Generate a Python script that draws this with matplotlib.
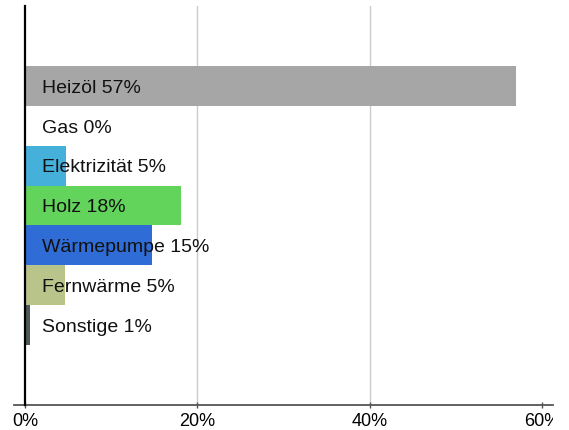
import matplotlib
matplotlib.use('Agg')
import matplotlib.pyplot as plt
from matplotlib.transforms import Bbox, TransformedBbox

# data
categories = ['Heizöl', 'Gas', 'Elektrizität', 'Holz', 'Wärmepumpe', 'Fernwärme', 'Sonstige']
shares = [57.0, 0.0, 4.8, 18.1, 14.7, 4.6, 0.6]
labels = ['57%', '0%', '5%', '18%', '15%', '5%', '1%']
colors = ['#a6a6a6', '#a6a6a6', '#45b0da', '#62d35b', '#2f6cd6', '#b9c48a', '#4c5954']
xticks = [0, 20, 40, 60]
xticklabels = ['0%', '20%', '40%', '60%']

plt.rcParams['font.family'] = ['Liberation Sans', 'DejaVu Sans']

fig = plt.figure(figsize=(5.69, 4.30), dpi=100)
ax = fig.add_axes([25 / 569, 25 / 430, 517 / 569, 399 / 430])

pos = list(range(len(categories)))
ax.barh(pos, shares, height=1.0, color=colors, zorder=2)

for i, (cat, lab) in enumerate(zip(categories, labels)):
    ax.annotate(f'{cat} {lab}', xy=(0, i), xytext=(12.3, -4.9), textcoords='offset points',
                va='baseline', ha='left', fontsize=14, color='#111111', zorder=3)

ax.set_xlim(0, 60)
ax.set_ylim(8, -2)
ax.set_yticks([])
ax.set_xticks(xticks)
ax.set_xticklabels(xticklabels, fontsize=13)
ax.tick_params(axis='x', direction='inout', length=5, width=1, color='#555555', pad=3)

# the original chart is cut off at the right edge
clip = TransformedBbox(Bbox([[0, 0], [553 / 569, 1]]), fig.transFigure)
for t in ax.get_xticklabels():
    t.set_clip_box(clip)
    t.set_clip_on(True)

# light vertical grid
for g in xticks[1:-1]:
    ax.axvline(g, color='#cccccc', lw=1, zorder=1)

for s in ['top', 'right']:
    ax.spines[s].set_visible(False)
ax.spines['left'].set_color('#000000')
ax.spines['left'].set_linewidth(1.6)
ax.spines['left'].set_zorder(4)
ax.spines['bottom'].set_color('#555555')
ax.spines['bottom'].set_linewidth(1.3)
ax.spines['bottom'].set_bounds(-1.3, 61.3)

fig.savefig('out.png', dpi=100)
